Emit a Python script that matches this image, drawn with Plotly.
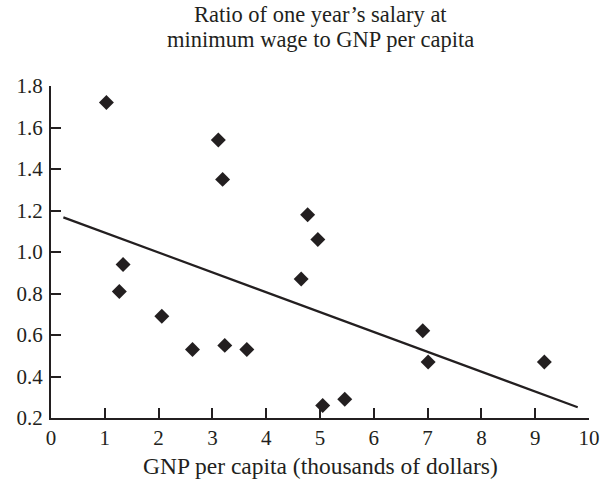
import plotly.graph_objects as go

gnp = [1.03, 1.27, 1.34, 2.06, 2.63, 3.11, 3.19, 3.23, 3.64, 4.65, 4.77, 4.96, 5.05, 5.46, 6.91, 7.01, 9.17]
ratio = [1.72, 0.81, 0.94, 0.69, 0.53, 1.54, 1.35, 0.55, 0.53, 0.87, 1.18, 1.06, 0.26, 0.29, 0.62, 0.47, 0.47]

trend_x = [0.23, 9.79]
trend_y = [1.167, 0.252]

x_ticks = [0, 1, 2, 3, 4, 5, 6, 7, 8, 9, 10]
y_ticks = [0.2, 0.4, 0.6, 0.8, 1.0, 1.2, 1.4, 1.6, 1.8]
y_tick_labels = ["0.2", "0.4", "0.6", "0.8", "1.0", "1.2", "1.4", "1.6", "1.8"]

title_lines = ["Ratio of one year’s salary at", "minimum wage to GNP per capita"]
x_title = "GNP per capita (thousands of dollars)"

ink = "#231f20"
font_family = "Liberation Serif, Times New Roman, serif"

fig = go.Figure()
fig.add_trace(go.Scatter(x=trend_x, y=trend_y, mode="lines",
                         line=dict(color=ink, width=2.2), hoverinfo="skip"))
fig.add_trace(go.Scatter(x=gnp, y=ratio, mode="markers",
                         marker=dict(symbol="diamond", size=11.5, color=ink,
                                     line=dict(width=0))))

# title lines and x-axis title as annotations (paper coordinates)
for txt, yy in zip(title_lines, [1.2139, 1.1386]):
    fig.add_annotation(text=txt, xref="paper", yref="paper", x=0.5, y=yy,
                       xanchor="center", yanchor="middle", showarrow=False,
                       font=dict(family=font_family, size=22.5, color=ink))
fig.add_annotation(text=x_title, xref="paper", yref="paper", x=0.5, y=-0.1446,
                   xanchor="center", yanchor="middle", showarrow=False,
                   font=dict(family=font_family, size=23.5, color=ink))

fig.update_layout(
    width=600, height=483,
    margin=dict(l=51, r=11, t=86, b=65),
    paper_bgcolor="white", plot_bgcolor="white",
    showlegend=False,
    hovermode=False,
    font=dict(family=font_family, size=21, color=ink),
    xaxis=dict(range=[0, 10], tickvals=x_ticks, ticks="inside", ticklen=10,
               tickwidth=1.5, tickcolor=ink, showline=True, linewidth=2,
               linecolor=ink, showgrid=False, zeroline=False,
               tickfont=dict(size=21), automargin=False),
    yaxis=dict(range=[0.2, 1.8], tickvals=y_ticks, ticktext=y_tick_labels,
               ticks="inside", ticklen=10, tickwidth=1.5, tickcolor=ink,
               showline=True, linewidth=2, linecolor=ink, showgrid=False,
               zeroline=False, tickfont=dict(size=21), ticklabelstandoff=2,
               automargin=False),
)

fig.write_html("out.html", config={"displayModeBar": False},
               post_script="document.body.style.margin='0';document.body.style.overflow='hidden';")
